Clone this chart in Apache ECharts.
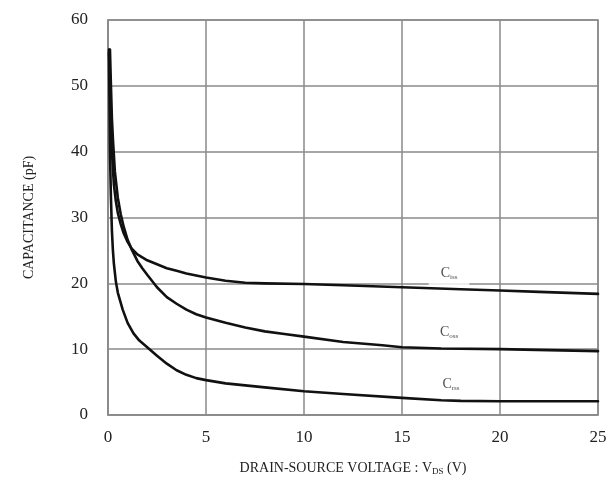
<!DOCTYPE html>
<html><head><meta charset="utf-8">
<script src="https://cdn.jsdelivr.net/npm/echarts@6/dist/echarts.min.js"></script>
<style>html,body{margin:0;padding:0;background:#fff}#c{width:615px;height:487px}</style>
</head><body><div id="c"></div>
<script>
var xTicks = [0, 5, 10, 15, 20, 25];
var yTicks = [0, 10, 20, 30, 40, 50, 60];
var ciss = [[0.05,55.5],[0.1,50],[0.15,44],[0.2,40],[0.3,35],[0.4,32.5],[0.5,30.7],[0.65,29],[0.8,27.6],[1,26.3],[1.2,25.3],[1.5,24.4],[2,23.5],[2.5,22.9],[3,22.3],[3.5,21.9],[4,21.5],[5,20.9],[6,20.4],[7,20.1],[8,20],[10,19.9],[12,19.7],[15,19.4],[18,19.1],[20,18.9],[22,18.7],[25,18.4]];
var coss = [[0.1,55.5],[0.15,50],[0.2,45],[0.25,42],[0.35,37],[0.5,33],[0.65,30.5],[0.8,28.6],[1,26.6],[1.2,25.2],[1.5,23.4],[1.75,22.3],[2,21.3],[2.5,19.4],[3,17.9],[3.5,16.9],[4,16],[4.5,15.3],[5,14.8],[6,14],[7,13.3],[8,12.7],[9,12.3],[10,11.9],[12,11.1],[14,10.6],[15,10.3],[17,10.1],[20,10],[25,9.7]];
var crss = [[0.05,55],[0.08,46],[0.1,40],[0.15,33],[0.2,28],[0.25,25],[0.3,23],[0.4,20.3],[0.5,18.6],[0.75,16],[1,14],[1.3,12.4],[1.6,11.3],[2,10.3],[2.5,9],[3,7.8],[3.5,6.8],[4,6.1],[4.5,5.6],[5,5.3],[6,4.8],[7,4.5],[8,4.2],[10,3.6],[12,3.2],[15,2.6],[17,2.25],[18,2.15],[20,2.1],[25,2.1]];
var curveLabels = [{name:'iss', x:17.4, y:21.3},{name:'oss', x:17.4, y:12.3},{name:'rss', x:17.5, y:4.4}];

var chart = echarts.init(document.getElementById('c'));
var serif = '"Liberation Serif", "DejaVu Serif", serif';
var gridColor = '#8a8a8a';
function lineSeries(d){
  return {type:'line', data:d, showSymbol:false, smooth:false, z:5,
    lineStyle:{color:'#111', width:2.6, join:'round', cap:'round'}};
}
chart.setOption({
  backgroundColor:'#fff',
  animation:false,
  grid:{left:108, right:17, top:20, bottom:72, show:true, borderColor:gridColor, borderWidth:1.5},
  xAxis:{type:'value', min:0, max:25, interval:5,
    axisLine:{show:true, lineStyle:{color:gridColor, width:1.5}},
    axisTick:{show:false},
    splitLine:{show:true, lineStyle:{color:gridColor, width:1.5}},
    axisLabel:{fontFamily:serif, fontSize:17, color:'#222', margin:14,
      formatter:function(v){return xTicks.indexOf(v)>=0?String(v):'';}},
    name:'{a|DRAIN-SOURCE VOLTAGE : V}{s|DS}{a| (V)}', nameLocation:'middle', nameGap:46,
    nameTextStyle:{rich:{a:{fontFamily:serif, fontSize:14, color:'#222'}, s:{fontFamily:serif, fontSize:9, color:'#222', verticalAlign:'bottom', padding:[6,0,0,0]}}}
  },
  yAxis:{type:'value', min:0, max:60, interval:10,
    axisLine:{show:true, lineStyle:{color:gridColor, width:1.5}},
    axisTick:{show:false},
    splitLine:{show:true, lineStyle:{color:gridColor, width:1.5}},
    axisLabel:{fontFamily:serif, fontSize:17, color:'#222', margin:20,
      formatter:function(v){return yTicks.indexOf(v)>=0?String(v):'';}},
    name:'CAPACITANCE (pF)', nameLocation:'middle', nameGap:72,
    nameTextStyle:{fontFamily:serif, fontSize:14, color:'#222'}
  },
  series:[lineSeries(ciss), lineSeries(coss), lineSeries(crss),
    {type:'scatter', symbolSize:0, z:3, silent:true,
     data:curveLabels.map(function(l){return {value:[l.x,l.y], name:l.name};}),
     label:{show:true, position:'inside', backgroundColor:'#fff', padding:[2,12,5,12],
       formatter:function(p){return '{c|C}{s|'+p.name+'}';},
       rich:{c:{fontFamily:serif, fontSize:14, color:'#222'}, s:{fontFamily:serif, fontSize:7, color:'#222', verticalAlign:'bottom', padding:[7,0,0,0]}}}
    }
  ]
});
</script></body></html>
